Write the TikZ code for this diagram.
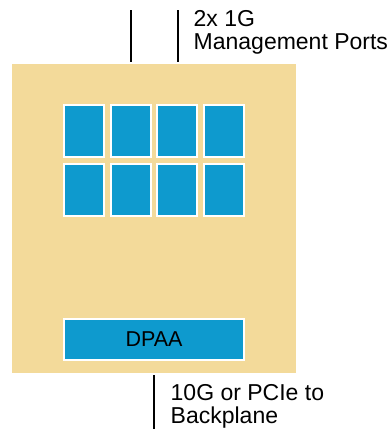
\documentclass[tikz,border=0pt]{standalone}
\usepackage{fontspec}
\setmainfont{Liberation Sans}
\definecolor{tan}{HTML}{F3DA9A}
\definecolor{cblue}{HTML}{0E9ACE}
\begin{document}
\begin{tikzpicture}[x=1pt,y=-1pt,
  board/.style={fill=tan, draw=none, minimum width=284pt, minimum height=309pt, inner sep=0pt},
  core/.style={fill=cblue, draw=white, line width=2pt, minimum width=40pt, minimum height=52pt, inner sep=0pt},
  dpaa/.style={fill=cblue, draw=white, line width=2pt, minimum width=180pt, minimum height=40.7pt, inner sep=0pt, font=\fontsize{21.5}{23}\selectfont},
  lbl/.style={anchor=north west, inner sep=0pt, align=left, font=\fontsize{23}{22.6}\selectfont},
  port/.style={line width=2pt, shorten >=2pt}
]
\useasboundingbox (0,0) rectangle (391,429);
\node[board] (board) at (154,218.5) {};
\foreach \i/\x in {1/84,2/130.7,3/177.3,4/224} {
  \node[core] (a\i) at (\x,130.5) {};
  \node[core] (b\i) at (\x,189.8) {};
}
\node[dpaa] (dpaa) at (154,339.3) {DPAA};
\coordinate (t1) at (131,10);
\coordinate (t2) at (178,10);
\coordinate (bt) at (154,429);
\draw[port] (t1) -- (t1 |- board.north);
\draw[port] (t2) -- (t2 |- board.north);
\draw[port] (bt) -- (bt |- board.south);
\node[lbl] (mgmt) at (193.5,10.5) {2x 1G\\Management Ports};
\node[lbl] (bp) at (170.5,384.3) {10G or PCIe to\\Backplane};
\end{tikzpicture}
\end{document}
